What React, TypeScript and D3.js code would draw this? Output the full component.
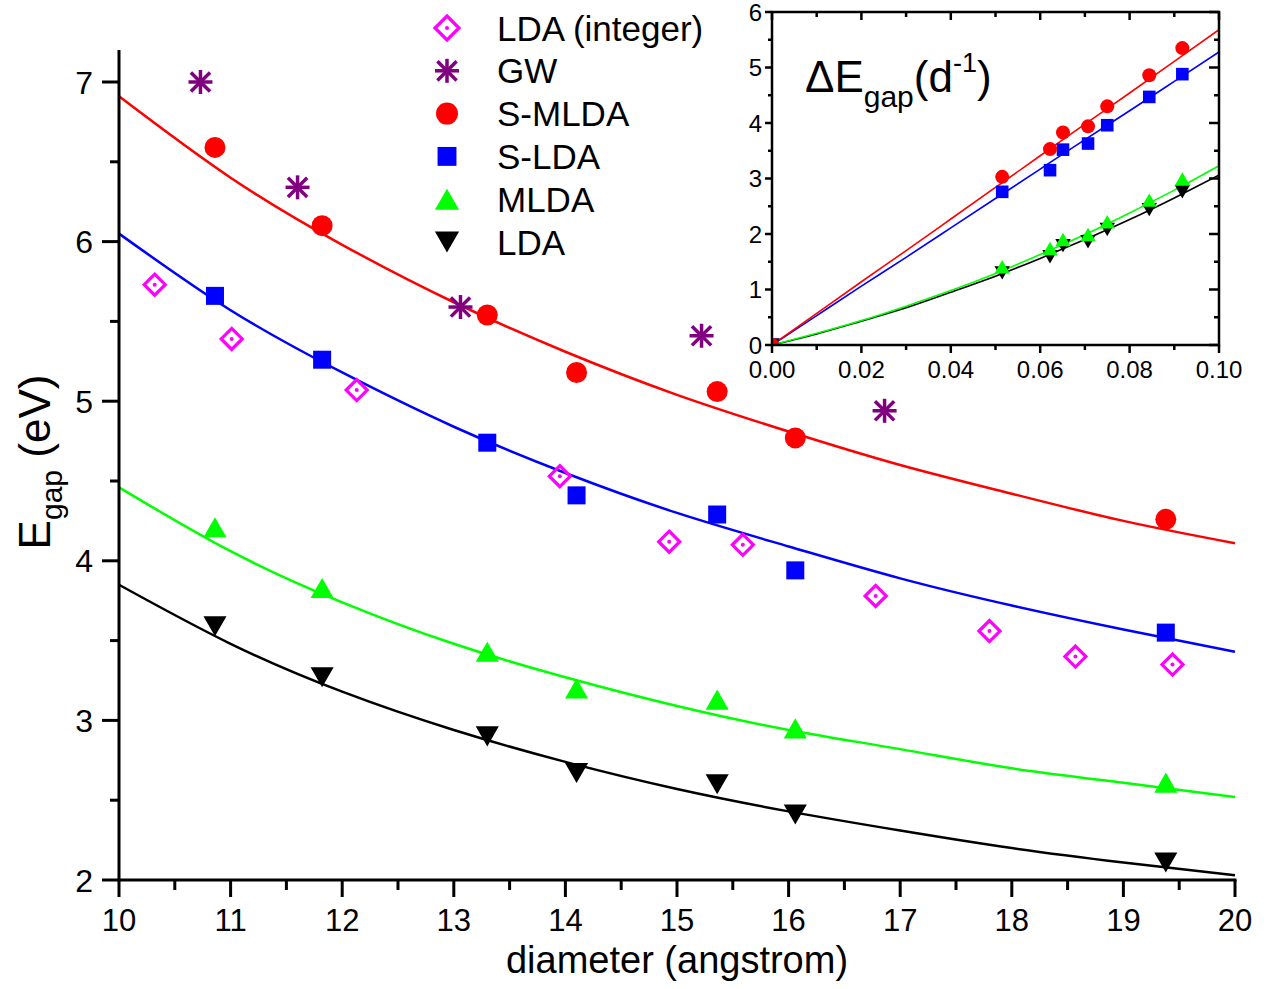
import React from "react";
import * as d3 from "d3";

// ---------- data ----------
const diameters = [10.86, 11.82, 13.3, 14.1, 15.36, 16.06, 19.38];
const sMLDA = [6.59, 6.1, 5.54, 5.18, 5.06, 4.77, 4.26];
const sLDA = [5.66, 5.26, 4.74, 4.41, 4.29, 3.94, 3.55];
const mLDA = [4.21, 3.83, 3.43, 3.2, 3.13, 2.95, 2.61];
const lda = [3.59, 3.27, 2.9, 2.67, 2.6, 2.41, 2.11];

const ldaIntD = [10.32, 11.01, 12.13, 13.95, 14.93, 15.59, 16.78, 17.8, 18.57, 19.44];
const ldaIntE = [5.73, 5.39, 5.07, 4.53, 4.12, 4.1, 3.78, 3.56, 3.4, 3.35];

const gwD = [10.73, 11.6, 13.06, 15.22, 16.86];
const gwE = [7.0, 6.34, 5.59, 5.41, 4.94];

const fitD = [10, 11, 12, 13, 14, 15, 16, 17, 18, 19, 20];
const fitSMLDA = [6.91, 6.4, 5.98, 5.62, 5.31, 5.04, 4.81, 4.6, 4.42, 4.25, 4.11];
const fitSLDA = [6.05, 5.57, 5.18, 4.84, 4.55, 4.3, 4.09, 3.89, 3.72, 3.57, 3.43];
const fitMLDA = [4.46, 4.06, 3.74, 3.48, 3.27, 3.09, 2.94, 2.82, 2.7, 2.61, 2.52];
const fitLDA = [3.85, 3.48, 3.18, 2.94, 2.74, 2.57, 2.43, 2.31, 2.2, 2.11, 2.03];

const xTicks = [10, 11, 12, 13, 14, 15, 16, 17, 18, 19, 20];
const yTicks = [2, 3, 4, 5, 6, 7];

// inset: delta E vs inverse diameter
const invD = [0, 0.0515, 0.0622, 0.0651, 0.0707, 0.075, 0.0844, 0.0918];
const dSMLDA = [0, 3.03, 3.53, 3.83, 3.94, 4.3, 4.86, 5.35];
const dSLDA = [0, 2.76, 3.15, 3.52, 3.63, 3.96, 4.47, 4.88];
const dMLDA = [0, 1.41, 1.74, 1.9, 1.99, 2.22, 2.61, 2.99];
const dLDA = [0, 1.3, 1.59, 1.79, 1.86, 2.08, 2.44, 2.76];

const fitInv = [0, 0.01, 0.02, 0.03, 0.04, 0.05, 0.06, 0.07, 0.08, 0.09, 0.1];
const fitDSMLDA = [0, 0.57, 1.14, 1.7, 2.27, 2.84, 3.41, 3.98, 4.54, 5.11, 5.68];
const fitDSLDA = [0, 0.53, 1.06, 1.58, 2.11, 2.64, 3.17, 3.7, 4.22, 4.75, 5.28];
const fitDMLDA = [0, 0.21, 0.44, 0.7, 0.98, 1.29, 1.63, 1.99, 2.38, 2.79, 3.23];
const fitDLDA = [0, 0.2, 0.43, 0.67, 0.95, 1.24, 1.56, 1.9, 2.26, 2.65, 3.06];

const insetXTicks = [0, 0.02, 0.04, 0.06, 0.08, 0.1];
const insetYTicks = [0, 1, 2, 3, 4, 5, 6];

const legendLabels = ["LDA (integer)", "GW", "S-MLDA", "S-LDA", "MLDA", "LDA"];
const legendTypes = ["diamond", "asterisk", "circle", "square", "triUp", "triDown"];
const legendColors = ["#FF00FF", "#800080", "#FF0000", "#0000FF", "#00FF00", "#000000"];

const FONT = "'Liberation Sans', Arial, Helvetica, sans-serif";

function Marker({ type, cx, cy, s, color }: any) {
  if (type === "circle") return <circle cx={cx} cy={cy} r={s * 0.5} fill={color} />;
  if (type === "square")
    return <rect x={cx - s * 0.45} y={cy - s * 0.45} width={s * 0.9} height={s * 0.9} fill={color} />;
  if (type === "triUp" || type === "triDown") {
    const w = s * 1.1;
    const h = w * 0.87;
    const sg = type === "triUp" ? 1 : -1;
    const pts = [
      [cx, cy - (sg * h) / 2],
      [cx - w / 2, cy + (sg * h) / 2],
      [cx + w / 2, cy + (sg * h) / 2],
    ];
    return <polygon points={pts.map((p) => p.join(",")).join(" ")} fill={color} />;
  }
  if (type === "diamond") {
    const r = s * 0.5;
    const pts = [
      [cx, cy - r],
      [cx + r, cy],
      [cx, cy + r],
      [cx - r, cy],
    ];
    return (
      <g>
        <polygon points={pts.map((p) => p.join(",")).join(" ")} fill="none" stroke={color} strokeWidth={3.2} />
        <circle cx={cx} cy={cy} r={2} fill={color} />
      </g>
    );
  }
  if (type === "asterisk") {
    const r = s * 0.5;
    const d = r * 0.8;
    return (
      <g stroke={color} strokeWidth={3.5}>
        <line x1={cx} y1={cy - r} x2={cx} y2={cy + r} />
        <line x1={cx - r} y1={cy} x2={cx + r} y2={cy} />
        <line x1={cx - d} y1={cy - d} x2={cx + d} y2={cy + d} />
        <line x1={cx - d} y1={cy + d} x2={cx + d} y2={cy - d} />
      </g>
    );
  }
  return null;
}

export default function App() {
  const W = 1267, H = 989;
  const x = d3.scaleLinear().domain([10, 20]).range([119, 1235]);
  const y = d3.scaleLinear().domain([2, 7]).range([880, 82]);
  const yTop = y(7.2);

  const xi = d3.scaleLinear().domain([0, 0.1]).range([772, 1219]);
  const yi = d3.scaleLinear().domain([0, 6]).range([345, 12]);

  const lineMain = (ys: number[]) =>
    d3.line<number>().x((_, i) => x(fitD[i])).y((v) => y(v)).curve(d3.curveNatural)(ys) as string;
  const lineInset = (ys: number[]) =>
    d3.line<number>().x((_, i) => xi(fitInv[i])).y((v) => yi(v)).curve(d3.curveNatural)(ys) as string;

  const xMinor = d3.range(10.5, 20, 1);
  const yMinor = d3.range(2.5, 7.2, 1);
  const ixMinor = d3.range(0.01, 0.1, 0.02);
  const iyMinor = d3.range(0.5, 6, 1);

  const mainSeries = [
    { vals: lda, type: "triDown", color: "#000000" },
    { vals: mLDA, type: "triUp", color: "#00FF00" },
    { vals: sLDA, type: "square", color: "#0000FF" },
    { vals: sMLDA, type: "circle", color: "#FF0000" },
  ];
  const fits = [
    { vals: fitLDA, color: "#000000" },
    { vals: fitMLDA, color: "#00FF00" },
    { vals: fitSLDA, color: "#0000FF" },
    { vals: fitSMLDA, color: "#FF0000" },
  ];
  const insetSeries = [
    { vals: dLDA, type: "triDown", color: "#000000" },
    { vals: dMLDA, type: "triUp", color: "#00FF00" },
    { vals: dSLDA, type: "square", color: "#0000FF" },
    { vals: dSMLDA, type: "circle", color: "#FF0000" },
  ];
  const insetFits = [
    { vals: fitDLDA, color: "#000000" },
    { vals: fitDMLDA, color: "#00FF00" },
    { vals: fitDSLDA, color: "#0000FF" },
    { vals: fitDSMLDA, color: "#FF0000" },
  ];
  const sizes: any = { circle: 21, square: 20, triUp: 21, triDown: 21 };
  const isizes: any = { circle: 14, square: 14, triUp: 14, triDown: 14 };

  return (
    <svg
      width={W}
      height={H}
      style={{ position: "absolute", left: 0, top: 0, display: "block", background: "#fff" }}
      fontFamily={FONT}
    >
      <defs>
        <clipPath id="insetClip">
          <rect x={xi(0)} y={yi(6)} width={xi(0.1) - xi(0)} height={yi(0) - yi(6)} />
        </clipPath>
      </defs>
      <rect x={0} y={0} width={W} height={H} fill="#fff" />

      {/* main fit curves */}
      {fits.map((f, i) => (
        <path key={i} d={lineMain(f.vals)} fill="none" stroke={f.color} strokeWidth={2.5} />
      ))}

      {/* main axes */}
      <line x1={119} y1={yTop} x2={119} y2={881.5} stroke="#000" strokeWidth={3} />
      <line x1={117.5} y1={880} x2={1236.5} y2={880} stroke="#000" strokeWidth={3} />
      {yTicks.map((t) => (
        <g key={t}>
          <line x1={102} x2={119} y1={y(t)} y2={y(t)} stroke="#000" strokeWidth={3} />
          <text x={93} y={y(t)} dy="0.36em" textAnchor="end" fontSize={32}>
            {t}
          </text>
        </g>
      ))}
      {yMinor.map((t) => (
        <line key={t} x1={110} x2={119} y1={y(t)} y2={y(t)} stroke="#000" strokeWidth={3} />
      ))}
      {xTicks.map((t) => (
        <g key={t}>
          <line x1={x(t)} x2={x(t)} y1={880} y2={897} stroke="#000" strokeWidth={3} />
          <text x={x(t)} y={931} textAnchor="middle" fontSize={31}>
            {t}
          </text>
        </g>
      ))}
      {xMinor.map((t) => (
        <line key={t} x1={x(t)} x2={x(t)} y1={880} y2={890} stroke="#000" strokeWidth={3} />
      ))}
      <text x={677} y={973} textAnchor="middle" fontSize={38}>
        diameter (angstrom)
      </text>
      <text transform="translate(50,462) rotate(-90)" textAnchor="middle" fontSize={44}>
        E
        <tspan fontSize={30} dy={12}>
          gap
        </tspan>
        <tspan dy={-12}> (eV)</tspan>
      </text>

      {/* main markers */}
      {ldaIntD.map((d, i) => (
        <Marker key={"li" + i} type="diamond" cx={x(d)} cy={y(ldaIntE[i])} s={21} color="#FF00FF" />
      ))}
      {gwD.map((d, i) => (
        <Marker key={"gw" + i} type="asterisk" cx={x(d)} cy={y(gwE[i])} s={24} color="#800080" />
      ))}
      {mainSeries.map((s, si) =>
        s.vals.map((v, i) => (
          <Marker key={si + "-" + i} type={s.type} cx={x(diameters[i])} cy={y(v)} s={sizes[s.type]} color={s.color} />
        ))
      )}

      {/* legend */}
      {legendLabels.map((lab, i) => {
        const cy = 28 + i * 42.8;
        const st = legendTypes[i];
        const sz = st === "asterisk" ? 24 : st === "diamond" ? 24 : st === "square" ? 21 : 22;
        return (
          <g key={lab}>
            <Marker type={st} cx={447} cy={cy} s={sz} color={legendColors[i]} />
            <text x={497} y={cy} dy="0.36em" fontSize={35}>
              {lab}
            </text>
          </g>
        );
      })}

      {/* inset */}
      <g clipPath="url(#insetClip)">
        {insetFits.map((f, i) => (
          <path key={i} d={lineInset(f.vals)} fill="none" stroke={f.color} strokeWidth={1.6} />
        ))}
        {insetSeries.map((s, si) =>
          s.vals.map((v, i) => (
            <Marker key={"i" + si + "-" + i} type={s.type} cx={xi(invD[i])} cy={yi(v)} s={isizes[s.type]} color={s.color} />
          ))
        )}
      </g>
      <rect
        x={xi(0)}
        y={yi(6)}
        width={xi(0.1) - xi(0)}
        height={yi(0) - yi(6)}
        fill="none"
        stroke="#000"
        strokeWidth={2.5}
      />
      {insetXTicks.map((t) => (
        <g key={t}>
          <line x1={xi(t)} x2={xi(t)} y1={yi(0)} y2={yi(0) + 8} stroke="#000" strokeWidth={2.5} />
          <line x1={xi(t)} x2={xi(t)} y1={yi(6)} y2={yi(6) + 8} stroke="#000" strokeWidth={2.5} />
          <text x={xi(t)} y={378} textAnchor="middle" fontSize={24}>
            {t.toFixed(2)}
          </text>
        </g>
      ))}
      {ixMinor.map((t) => (
        <g key={t}>
          <line x1={xi(t)} x2={xi(t)} y1={yi(0)} y2={yi(0) + 5} stroke="#000" strokeWidth={2.5} />
          <line x1={xi(t)} x2={xi(t)} y1={yi(6)} y2={yi(6) + 5} stroke="#000" strokeWidth={2.5} />
        </g>
      ))}
      {insetYTicks.map((t) => (
        <g key={t}>
          <line x1={xi(0) - 7} x2={xi(0)} y1={yi(t)} y2={yi(t)} stroke="#000" strokeWidth={2.5} />
          <line x1={xi(0.1) - 10} x2={xi(0.1)} y1={yi(t)} y2={yi(t)} stroke="#000" strokeWidth={2.5} />
          <text x={762} y={yi(t)} dy="0.36em" textAnchor="end" fontSize={24}>
            {t}
          </text>
        </g>
      ))}
      {iyMinor.map((t) => (
        <g key={t}>
          <line x1={xi(0) - 4} x2={xi(0)} y1={yi(t)} y2={yi(t)} stroke="#000" strokeWidth={2.5} />
          <line x1={xi(0.1) - 5} x2={xi(0.1)} y1={yi(t)} y2={yi(t)} stroke="#000" strokeWidth={2.5} />
        </g>
      ))}
      <text x={805} y={92} fontSize={44}>
        ΔE
        <tspan fontSize={30} dy={15}>
          gap
        </tspan>
        <tspan dy={-15}>(d</tspan>
        <tspan fontSize={27} dy={-20}>
          -1
        </tspan>
        <tspan dy={20}>)</tspan>
      </text>
    </svg>
  );
}
